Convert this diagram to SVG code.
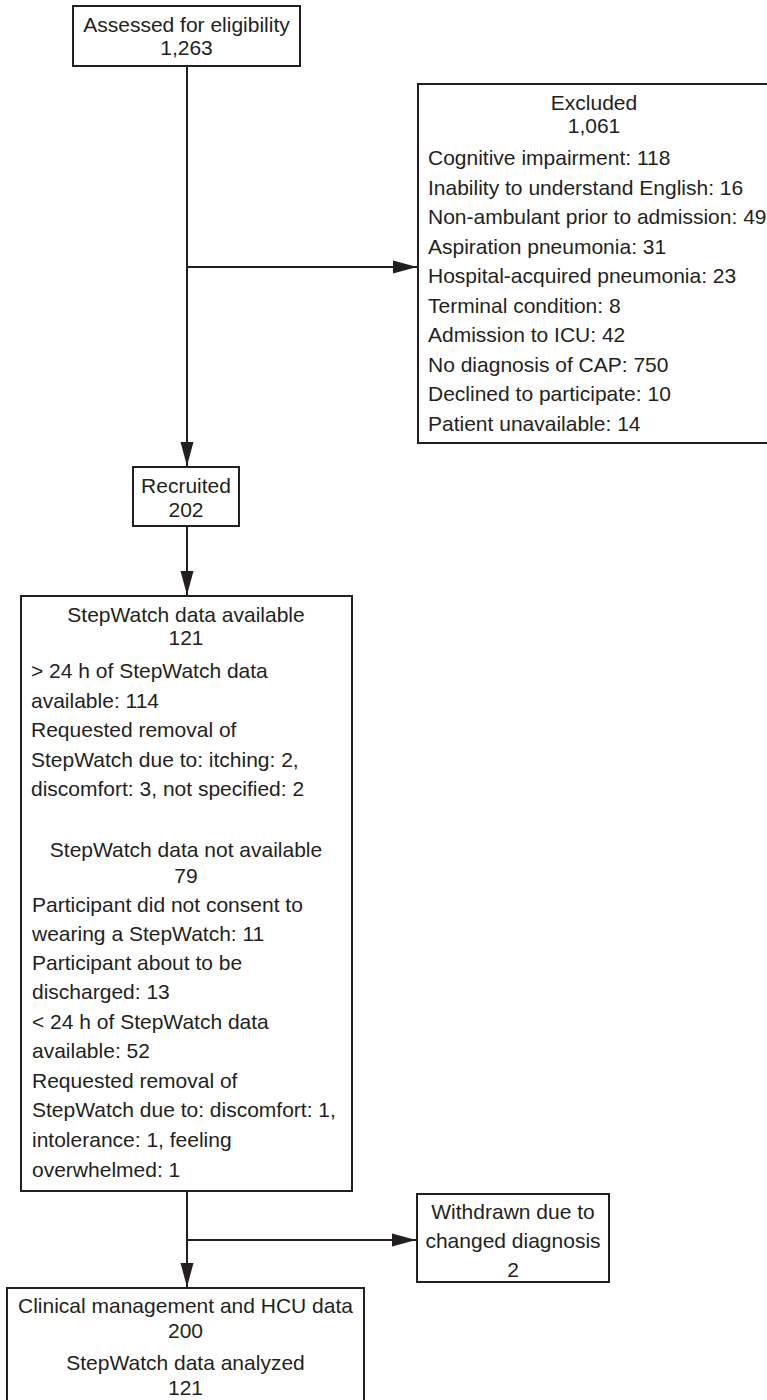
<svg xmlns="http://www.w3.org/2000/svg" width="767" height="1400" viewBox="0 0 767 1400">
<defs>
<style>
.box{fill:#fff;stroke:#231f20;stroke-width:2}
.ln{fill:none;stroke:#231f20;stroke-width:2}
text{font-family:"Liberation Sans",Arial,sans-serif;font-size:21px;fill:#231f20}
.c{text-anchor:middle}
</style>
<marker id="ah" markerUnits="userSpaceOnUse" markerWidth="24" markerHeight="14" refX="24" refY="7" orient="auto">
<path d="M0,0.5 L24,7 L0,13.5 z" fill="#231f20"/>
</marker>
</defs>
<rect width="767" height="1400" fill="#fff"/>
<g id="connectors">
<line class="ln" x1="187" y1="66" x2="187" y2="466" marker-end="url(#ah)"/>
<line class="ln" x1="187" y1="267" x2="417" y2="267" marker-end="url(#ah)"/>
<line class="ln" x1="187" y1="526" x2="187" y2="595" marker-end="url(#ah)"/>
<line class="ln" x1="187" y1="1191" x2="187" y2="1287" marker-end="url(#ah)"/>
<line class="ln" x1="187" y1="1240" x2="416" y2="1240" marker-end="url(#ah)"/>
</g>
<g id="assessed">
<rect class="box" x="73" y="6" width="227" height="60"/>
<text class="c" x="186.5" y="32">Assessed for eligibility</text>
<text class="c" x="186.5" y="55">1,263</text>
</g>
<g id="excluded">
<rect class="box" x="418" y="84" width="353" height="359"/>
<text class="c" x="594" y="110">Excluded</text>
<text class="c" x="594" y="133">1,061</text>
<text x="428" y="165">Cognitive impairment: 118</text>
<text x="428" y="195">Inability to understand English: 16</text>
<text x="428" y="224">Non-ambulant prior to admission: 49</text>
<text x="428" y="254">Aspiration pneumonia: 31</text>
<text x="428" y="283">Hospital-acquired pneumonia: 23</text>
<text x="428" y="313">Terminal condition: 8</text>
<text x="428" y="342">Admission to ICU: 42</text>
<text x="428" y="372">No diagnosis of CAP: 750</text>
<text x="428" y="401">Declined to participate: 10</text>
<text x="428" y="431">Patient unavailable: 14</text>
</g>
<g id="recruited">
<rect class="box" x="133" y="467" width="106" height="59"/>
<text class="c" x="186" y="493">Recruited</text>
<text class="c" x="186" y="517">202</text>
</g>
<g id="stepwatch">
<rect class="box" x="21" y="596" width="331" height="595"/>
<text class="c" x="186" y="622">StepWatch data available</text>
<text class="c" x="186" y="645">121</text>
<text x="31" y="678">&gt; 24 h of StepWatch data</text>
<text x="31" y="708">available: 114</text>
<text x="31" y="737">Requested removal of</text>
<text x="31" y="767">StepWatch due to: itching: 2,</text>
<text x="31" y="796">discomfort: 3, not specified: 2</text>
<text class="c" x="186" y="857">StepWatch data not available</text>
<text class="c" x="186" y="883">79</text>
<text x="32" y="912">Participant did not consent to</text>
<text x="32" y="941">wearing a StepWatch: 11</text>
<text x="32" y="970">Participant about to be</text>
<text x="32" y="999">discharged: 13</text>
<text x="32" y="1029">&lt; 24 h of StepWatch data</text>
<text x="32" y="1058">available: 52</text>
<text x="32" y="1088">Requested removal of</text>
<text x="32" y="1117">StepWatch due to: discomfort: 1,</text>
<text x="32" y="1147">intolerance: 1, feeling</text>
<text x="32" y="1177">overwhelmed: 1</text>
</g>
<g id="withdrawn">
<rect class="box" x="417" y="1194" width="192" height="88"/>
<text class="c" x="513" y="1219">Withdrawn due to</text>
<text class="c" x="513" y="1248">changed diagnosis</text>
<text class="c" x="513" y="1277">2</text>
</g>
<g id="analyzed">
<rect class="box" x="7" y="1288" width="357" height="125"/>
<text class="c" x="185.5" y="1313">Clinical management and HCU data</text>
<text class="c" x="185.5" y="1338">200</text>
<text class="c" x="185.5" y="1370">StepWatch data analyzed</text>
<text class="c" x="185.5" y="1395">121</text>
</g>
</svg>
